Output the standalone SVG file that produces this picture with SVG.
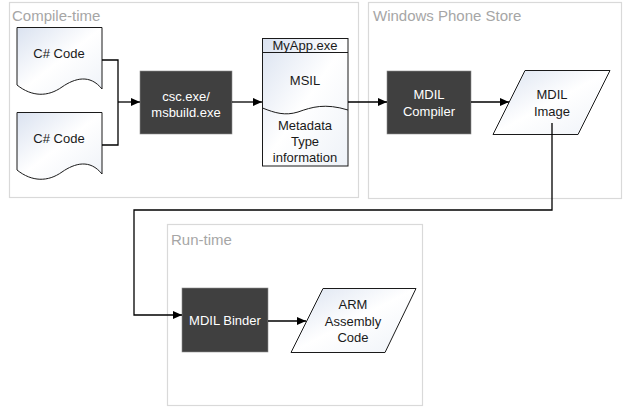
<svg xmlns="http://www.w3.org/2000/svg" width="628" height="412" viewBox="0 0 628 412">
<style>
.cont{fill:#ffffff;stroke:#d9d9d9;stroke-width:1.2}
.ctitle{font-family:"Liberation Sans",Arial,sans-serif;font-size:15px;fill:#a6a6a6}
.dark{fill:#404040;stroke:#8c8c8c;stroke-width:0.6}
.light{fill:url(#g);stroke:#1a1a1a;stroke-width:1}
.t{font-family:"Liberation Sans",Arial,sans-serif;font-size:13px;fill:#1a1a1a;text-anchor:middle}
.tw{font-family:"Liberation Sans",Arial,sans-serif;font-size:13px;fill:#ffffff;text-anchor:middle}
.c{fill:none;stroke:#000;stroke-width:1.3}
</style>
<defs>
<linearGradient id="g" x1="0" y1="0" x2="1" y2="1">
<stop offset="0" stop-color="#dae2f0"/>
<stop offset="0.5" stop-color="#ffffff"/>
<stop offset="1" stop-color="#eef2f8"/>
</linearGradient>
<marker id="a" markerWidth="9" markerHeight="8" refX="9" refY="4" orient="auto" markerUnits="userSpaceOnUse">
<path d="M0,0 L9,4 L0,8 Z" fill="#000"/>
</marker>
</defs>
<rect width="628" height="412" fill="#ffffff"/>

<g id="compile-time">
<rect class="cont" x="9.5" y="2.5" width="349" height="195"/>
<text class="ctitle" x="12" y="21">Compile-time</text>
</g>
<g id="windows-phone-store">
<rect class="cont" x="368.5" y="2.5" width="253" height="196"/>
<text class="ctitle" x="373" y="21">Windows Phone Store</text>
</g>
<g id="run-time">
<rect class="cont" x="167.5" y="224.5" width="255" height="181"/>
<text class="ctitle" x="171" y="245">Run-time</text>
</g>

<g id="cs-code-1">
<path class="light" d="M17,27.5 H102 V89 C 90,74 75,78 62,87 C 48,97 32,97 17,85 Z"/>
<text class="t" x="59" y="58">C# Code</text>
</g>
<g id="cs-code-2">
<path class="light" d="M17,112.5 H102 V174 C 90,159 75,163 62,172 C 48,182 32,182 17,170 Z"/>
<text class="t" x="59" y="143">C# Code</text>
</g>

<g id="csc">
<rect class="dark" x="140" y="71" width="92" height="63"/>
<text class="tw" x="186" y="101">csc.exe/</text>
<text class="tw" x="186" y="117">msbuild.exe</text>
</g>

<g id="myapp">
<rect class="light" x="262.5" y="38.5" width="85.5" height="127.5"/>
<line x1="262.5" y1="52.5" x2="348" y2="52.5" stroke="#1a1a1a" stroke-width="1"/>
<path d="M262.5,108 C 275,113 285,116 298,112 C 312,107 325,103 348,110" fill="none" stroke="#1a1a1a" stroke-width="1"/>
<text class="t" x="305" y="50">MyApp.exe</text>
<text class="t" x="305" y="85">MSIL</text>
<text class="t" x="305" y="130">Metadata</text>
<text class="t" x="305" y="146">Type</text>
<text class="t" x="305" y="162">information</text>
</g>

<g id="mdil-compiler">
<rect class="dark" x="387" y="71" width="84" height="63"/>
<text class="tw" x="429" y="99">MDIL</text>
<text class="tw" x="429" y="116">Compiler</text>
</g>

<g id="mdil-image">
<path class="light" d="M525,70.5 H610 L578,134.5 H493 Z"/>
<text class="t" x="552" y="99">MDIL</text>
<text class="t" x="552" y="116">Image</text>
</g>

<g id="mdil-binder">
<rect class="dark" x="182" y="288" width="86" height="64"/>
<text class="tw" x="225" y="325">MDIL Binder</text>
</g>

<g id="arm-code">
<path class="light" d="M323,288.5 H416 L385,352.5 H291 Z"/>
<text class="t" x="353" y="309">ARM</text>
<text class="t" x="353" y="326">Assembly</text>
<text class="t" x="353" y="342">Code</text>
</g>

<g id="connectors">
<path class="c" d="M102,60 H118 V145 H102"/>
<path class="c" d="M118,102 H140" marker-end="url(#a)"/>
<path class="c" d="M232,102 H262" marker-end="url(#a)"/>
<path class="c" d="M348,102 H387" marker-end="url(#a)"/>
<path class="c" d="M471,102 H509" marker-end="url(#a)"/>
<path class="c" d="M552,123 V210 H134 V315 H182" marker-end="url(#a)"/>
<path class="c" d="M268,321 H306" marker-end="url(#a)"/>
</g>
</svg>
